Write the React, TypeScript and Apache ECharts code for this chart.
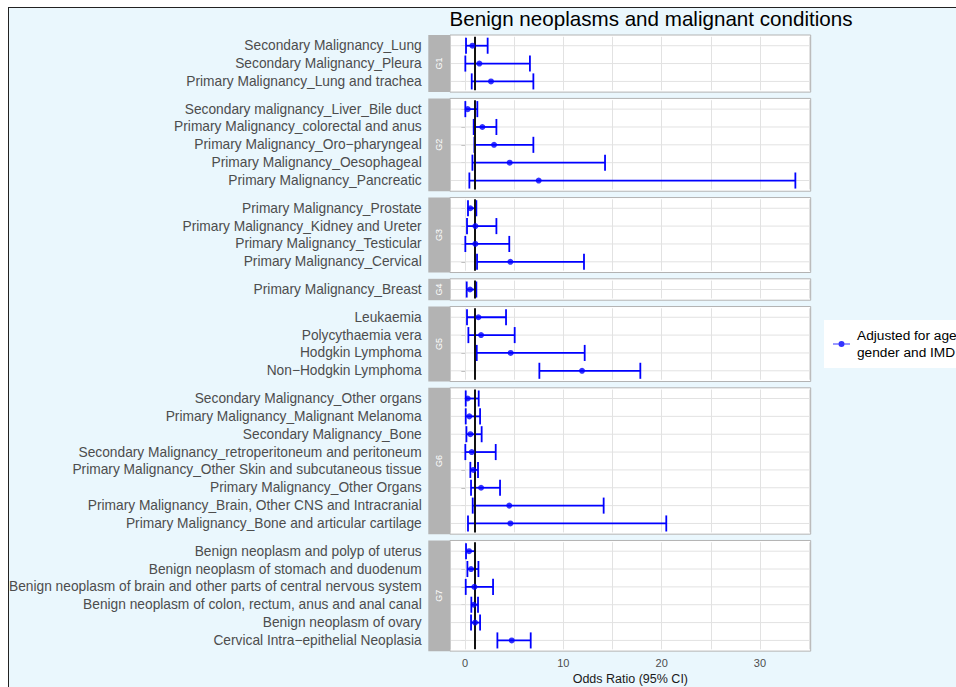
import React, { useEffect, useRef } from 'react';
import * as echarts from 'echarts';

const groupNames = ['G1', 'G2', 'G3', 'G4', 'G5', 'G6', 'G7'];

const g1Labels = ['Secondary Malignancy_Lung', 'Secondary Malignancy_Pleura', 'Primary Malignancy_Lung and trachea'];
const g1OR = [0.75, 1.46, 2.64];
const g1Lower = [0.1, 0.03, 0.68];
const g1Upper = [2.3, 6.6, 6.95];

const g2Labels = ['Secondary malignancy_Liver_Bile duct', 'Primary Malignancy_colorectal and anus', 'Primary Malignancy_Oro\u2212pharyngeal', 'Primary Malignancy_Oesophageal', 'Primary Malignancy_Pancreatic'];
const g2OR = [0.27, 1.76, 2.95, 4.54, 7.49];
const g2Lower = [0.03, 0.88, 0.95, 0.75, 0.44];
const g2Upper = [1.25, 3.19, 6.95, 14.24, 33.6];

const g3Labels = ['Primary Malignancy_Prostate', 'Primary Malignancy_Kidney and Ureter', 'Primary Malignancy_Testicular', 'Primary Malignancy_Cervical'];
const g3OR = [0.54, 1.05, 1.05, 4.61];
const g3Lower = [0.3, 0.2, 0.03, 1.22];
const g3Upper = [1.15, 3.19, 4.5, 12.1];

const g4Labels = ['Primary Malignancy_Breast'];
const g4OR = [0.51];
const g4Lower = [0.17];
const g4Upper = [1.15];

const g5Labels = ['Leukaemia', 'Polycythaemia vera', 'Hodgkin Lymphoma', 'Non\u2212Hodgkin Lymphoma'];
const g5OR = [1.36, 1.63, 4.64, 11.9];
const g5Lower = [0.2, 0.34, 1.19, 7.56];
const g5Upper = [4.17, 5.05, 12.17, 17.83];

const g6Labels = ['Secondary Malignancy_Other organs', 'Primary Malignancy_Malignant Melanoma', 'Secondary Malignancy_Bone', 'Secondary Malignancy_retroperitoneum and peritoneum', 'Primary Malignancy_Other Skin and subcutaneous tissue', 'Primary Malignancy_Other Organs', 'Primary Malignancy_Brain, Other CNS and Intracranial', 'Primary Malignancy_Bone and articular cartilage'];
const g6OR = [0.27, 0.44, 0.54, 0.68, 0.85, 1.63, 4.5, 4.61];
const g6Lower = [0.07, 0.07, 0.14, 0.03, 0.54, 0.61, 0.78, 0.3];
const g6Upper = [1.39, 1.53, 1.69, 3.12, 1.32, 3.56, 14.1, 20.47];

const g7Labels = ['Benign neoplasm and polyp of uterus', 'Benign neoplasm of stomach and duodenum', 'Benign neoplasm of brain and other parts of central nervous system', 'Benign neoplasm of colon, rectum, anus and anal canal', 'Benign neoplasm of ovary', 'Cervical Intra\u2212epithelial Neoplasia'];
const g7OR = [0.41, 0.61, 0.95, 0.88, 1.02, 4.75];
const g7Lower = [0.1, 0.24, 0.07, 0.64, 0.61, 3.29];
const g7Upper = [1.02, 1.36, 2.85, 1.32, 1.53, 6.68];

const referenceOR = 1;
const xTickLabels = [0, 10, 20, 30];
const seriesName = 'Adjusted for age, gender and IMD';
const legendText = 'Adjusted for age,\ngender and IMD';
const titleText = 'Benign neoplasms and malignant conditions';
const xAxisTitle = 'Odds Ratio (95% CI)';

const groups = [
  { labels: g1Labels, or: g1OR, lo: g1Lower, hi: g1Upper },
  { labels: g2Labels, or: g2OR, lo: g2Lower, hi: g2Upper },
  { labels: g3Labels, or: g3OR, lo: g3Lower, hi: g3Upper },
  { labels: g4Labels, or: g4OR, lo: g4Lower, hi: g4Upper },
  { labels: g5Labels, or: g5OR, lo: g5Lower, hi: g5Upper },
  { labels: g6Labels, or: g6OR, lo: g6Lower, hi: g6Upper },
  { labels: g7Labels, or: g7OR, lo: g7Lower, hi: g7Upper },
];

const FONT = '"Liberation Sans", Arial, Helvetica, sans-serif';
const BLUE = '#0000ff';
const GRID_COLOR = '#e2e2e2';
const BORDER_COLOR = '#b3b3b3';

// layout (chart coordinates)
const PANEL_LEFT = 441;
const PANEL_WIDTH = 360.7;
const STRIP_LEFT = 419.3;
const TOP0 = 27;
const BAND = 17.85;
const GAP = 6.3;
const PAD = 0.1 * BAND;
const X_MIN = -1.53;
const X_MAX = 35.16;

function buildOption() {
  const grids: any[] = [];
  const xAxes: any[] = [];
  const yAxes: any[] = [];
  const series: any[] = [];
  const graphics: any[] = [];
  let top = TOP0;
  const last = groups.length - 1;

  groups.forEach((g, i) => {
    const n = g.labels.length;
    const panelH = (n + 0.2) * BAND;
    grids.push({
      left: PANEL_LEFT,
      top: top + PAD,
      width: PANEL_WIDTH,
      height: n * BAND,
      containLabel: false,
      outerBoundsMode: 'none',
    });

    xAxes.push({
      type: 'value',
      gridIndex: i,
      min: X_MIN,
      max: X_MAX,
      splitNumber: 7,
      axisLine: { show: false },
      axisTick: { show: false },
      splitLine: { show: true, lineStyle: { color: GRID_COLOR, width: 1 } },
      axisLabel: {
        show: i === last,
        color: '#4d4d4d',
        fontSize: 11,
        fontFamily: FONT,
        margin: 8,
        showMinLabel: false,
        showMaxLabel: false,
        formatter: (v: number) => (xTickLabels.indexOf(Math.round(v * 1000) / 1000) >= 0 ? String(v) : ''),
      },
      name: i === last ? xAxisTitle : '',
      nameLocation: 'middle',
      nameGap: 23,
      nameTextStyle: { color: '#1a1a1a', fontSize: 12.5, fontFamily: FONT },
    });

    yAxes.push({
      type: 'category',
      gridIndex: i,
      data: g.labels,
      inverse: true,
      offset: PANEL_LEFT - STRIP_LEFT,
      axisLine: { show: false },
      axisTick: { show: true, alignWithLabel: true, length: 3.7, lineStyle: { color: BORDER_COLOR, width: 1 } },
      axisLabel: { interval: 0, color: '#4d4d4d', fontSize: 13.75, fontFamily: FONT, margin: 6.6 },
      splitLine: { show: false },
    });

    series.push({
      type: 'custom',
      name: 'ci_' + i,
      xAxisIndex: i,
      yAxisIndex: i,
      z: 2,
      silent: true,
      encode: { x: [1, 2], y: 0 },
      data: g.labels.map((_, k) => [k, g.lo[k], g.hi[k]]),
      renderItem: (params: any, api: any) => {
        const cat = api.value(0);
        const p1 = api.coord([api.value(1), cat]);
        const p2 = api.coord([api.value(2), cat]);
        const cs = params.coordSys;
        const h = api.size([0, 1])[1] * 0.45;
        const y = p1[1];
        const st = { stroke: BLUE, lineWidth: 1.8 };
        return {
          type: 'group',
          children: [
            { type: 'line', z2: 0, shape: { x1: cs.x, y1: y, x2: cs.x + cs.width, y2: y }, style: { stroke: GRID_COLOR, lineWidth: 1 } },
            { type: 'line', z2: 1, shape: { x1: p1[0], y1: y, x2: p2[0], y2: y }, style: st },
            { type: 'line', z2: 1, shape: { x1: p1[0], y1: y - h, x2: p1[0], y2: y + h }, style: st },
            { type: 'line', z2: 1, shape: { x1: p2[0], y1: y - h, x2: p2[0], y2: y + h }, style: st },
          ],
        };
      },
    });

    series.push({
      type: 'scatter',
      name: seriesName,
      xAxisIndex: i,
      yAxisIndex: i,
      z: 4,
      symbol: 'circle',
      symbolSize: 6,
      itemStyle: { color: BLUE },
      silent: true,
      data: g.or.map((v, k) => [v, k]),
      markLine: {
        silent: true,
        z: 3,
        symbol: ['none', 'none'],
        label: { show: false },
        lineStyle: { color: '#111', width: 2, type: 'solid' },
        emphasis: { disabled: true },
        data: [{ xAxis: referenceOR }],
      },
    });

    // panel background
    graphics.push({
      type: 'rect',
      z: -10,
      silent: true,
      shape: { x: PANEL_LEFT, y: top, width: PANEL_WIDTH, height: panelH },
      style: { fill: '#ffffff' },
    });
    // panel border
    graphics.push({
      type: 'rect',
      z: 50,
      silent: true,
      shape: { x: PANEL_LEFT, y: top, width: PANEL_WIDTH, height: panelH },
      style: { fill: 'none', stroke: BORDER_COLOR, lineWidth: 1 },
    });
    // strip
    graphics.push({
      type: 'rect',
      z: 10,
      silent: true,
      shape: { x: STRIP_LEFT, y: top, width: PANEL_LEFT - STRIP_LEFT, height: panelH },
      style: { fill: BORDER_COLOR },
    });
    graphics.push({
      type: 'text',
      z: 11,
      silent: true,
      x: (STRIP_LEFT + PANEL_LEFT) / 2,
      y: top + panelH / 2,
      rotation: Math.PI / 2,
      style: { text: groupNames[i], fill: '#ffffff', fontSize: 9, fontFamily: FONT, align: 'center', verticalAlign: 'middle' },
    });

    top += panelH + GAP;
  });

  return {
    animation: false,
    backgroundColor: '#eaf7fd',
    textStyle: { fontFamily: FONT },
    title: {
      text: titleText,
      left: 642,
      top: 0,
      padding: 0,
      textAlign: 'center',
      textStyle: { color: '#000', fontSize: 20.6, fontWeight: 'normal', fontFamily: FONT },
    },
    legend: {
      data: [seriesName],
      left: 815,
      top: 312,
      orient: 'vertical',
      backgroundColor: '#ffffff',
      padding: [7, 20, 7, 9],
      icon: 'path://M0 2.4H17V3.6H0Z M5.5 3A3 3 0 1 1 11.5 3A3 3 0 1 1 5.5 3Z',
      itemWidth: 17,
      itemHeight: 6,
      selectedMode: false,
      formatter: () => legendText,
      textStyle: { color: '#000', fontSize: 13.7, lineHeight: 17, fontFamily: FONT, padding: [0, 0, 0, 2] },
      itemStyle: { color: BLUE },
    },
    grid: grids,
    xAxis: xAxes,
    yAxis: yAxes,
    series,
    graphic: { elements: graphics },
  };
}

export default function App() {
  const ref = useRef<HTMLDivElement>(null);
  useEffect(() => {
    if (!ref.current) return;
    const chart = echarts.init(ref.current, null, { renderer: 'svg' });
    chart.setOption(buildOption() as any);
    return () => {
      chart.dispose();
    };
  }, []);
  return (
    <div
      style={{
        position: 'fixed',
        left: 8,
        top: 7,
        width: 948,
        height: 680,
        overflow: 'hidden',
        boxSizing: 'border-box',
        borderLeft: '1px solid #222',
        borderTop: '1px solid #222',
        background: '#eaf7fd',
      }}
    >
      <div ref={ref} style={{ width: 1000, height: 679 }} />
    </div>
  );
}
